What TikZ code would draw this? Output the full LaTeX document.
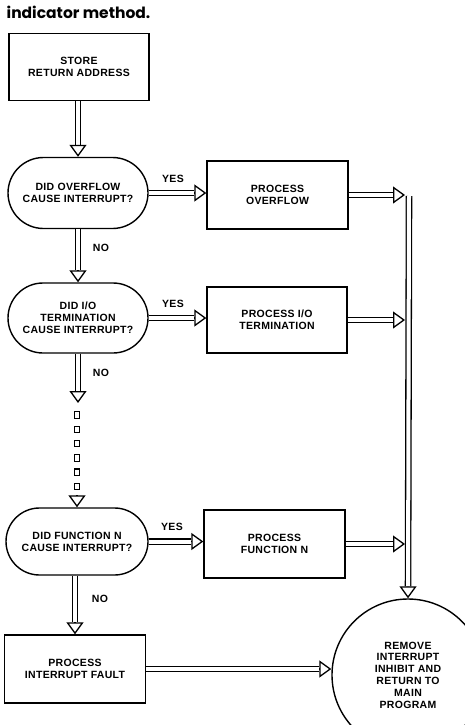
\documentclass[tikz,border=0pt]{standalone}
\usepackage{fontspec}
\setmainfont{Liberation Sans}[LetterSpace=3]
\newfontfamily\titlefont{Poppins}
\usetikzlibrary{arrows.meta, calc, shapes.misc}

% double-shafted arrow with a hollow head
\newcommand{\dblarr}[2]{%
  \draw[dblshaft] (#1) -- ($(#2)!12pt!(#1)$);
  \draw[dblhead] ($(#2)!12pt!(#1)$) -- (#2);}

\begin{document}
\begin{tikzpicture}[
  x=1pt, y=-1pt,
  font=\bfseries\fontsize{10.5}{11.8}\selectfont,
  line width=1.4pt,
  procbox/.style={draw, rectangle, align=center, inner sep=0pt},
  decbox/.style={draw, rounded rectangle, align=center, inner sep=0pt},
  endcirc/.style={draw, circle, align=center, inner sep=0pt, minimum size=152pt},
  dblshaft/.style={double, double distance=4pt, line width=1.3pt},
  dblhead/.style={line width=1.3pt,
                  -{Triangle[open, length=12pt, width=17pt]}},
  dot/.style={draw, rectangle, line width=1.1pt, minimum width=5pt,
              minimum height=6.5pt, inner sep=0pt},
  lbl/.style={inner sep=0pt}
]
\useasboundingbox (0,0) rectangle (465,725);

% ---------------- Caption ----------------
\node[anchor=south west, inner sep=0pt, font=\titlefont\bfseries\fontsize{15.5}{18}\selectfont]
  (title) at (6,19) {indicator method.};

% ---------------- Left column ----------------
\node[procbox, minimum width=140pt, minimum height=67pt] (store) at (79,67)
  {STORE\\RETURN ADDRESS};
\node[decbox, minimum width=140pt, minimum height=71pt] (dec1) at (78,193)
  {DID OVERFLOW\\CAUSE INTERRUPT?};
\node[decbox, minimum width=140pt, minimum height=70pt] (dec2) at (78,318)
  {DID I/O\\TERMINATION\\CAUSE INTERRUPT?};
\node[decbox, minimum width=142pt, minimum height=67pt] (dec3) at (77,541.5)
  {DID FUNCTION N\\CAUSE INTERRUPT?};
\node[procbox, minimum width=141pt, minimum height=68pt] (fault) at (75,669)
  {PROCESS\\INTERRUPT FAULT};

% ---------------- Process boxes ----------------
\node[procbox, minimum width=141pt, minimum height=68pt] (pov) at (277.5,195)
  {PROCESS\\OVERFLOW};
\node[procbox, minimum width=140pt, minimum height=66pt] (pio) at (277,320)
  {PROCESS I/O\\TERMINATION};
\node[procbox, minimum width=141pt, minimum height=68pt] (pfn) at (274.5,544)
  {PROCESS\\FUNCTION N};

% ---------------- Exit ----------------
\node[endcirc] (done) at (408,675)
  {REMOVE\\INTERRUPT\\INHIBIT AND\\RETURN TO\\MAIN\\PROGRAM};

% ---------------- Labels ----------------
\node[lbl] (yes1) at (173,179) {YES};
\node[lbl] (yes2) at (173,304) {YES};
\node[lbl] (yes3) at (172,527) {YES};
\node[lbl] (no1) at (101,248) {NO};
\node[lbl] (no2) at (101,373) {NO};
\node[lbl] (no3) at (100,599) {NO};

% ---------------- Helper coordinates ----------------
\coordinate (bustop) at (409,196);
\coordinate (gaptop) at (78,403);
\coordinate (dec1in) at (store.south -| dec1.north);
\coordinate (faultin) at (dec3.south -| fault.north);
\coordinate (ovin) at (pov.east -| 405,0);
\coordinate (ioin) at (pio.east -| 405,0);
\coordinate (fnin) at (pfn.east -| 405,0);
\coordinate (donein) at (done.west |- fault.east);
\foreach \i in {0,...,5}
  \node[dot] (sq\i) at (77,415+14.3*\i) {};

% ---------------- Arrows ----------------
\dblarr{dec1in}{dec1.north}
\dblarr{dec1.east}{pov.west |- dec1.east}
\dblarr{dec1.south}{dec2.north}
\dblarr{dec2.east}{pio.west |- dec2.east}
\dblarr{dec2.south}{gaptop}
\draw[dblhead] ($(dec3.north)-(0,12)$) -- (dec3.north);
\dblarr{dec3.east}{pfn.west |- dec3.east}
\dblarr{faultin}{fault.north}
\dblarr{fault.east}{donein}

% into the return bus
\dblarr{pov.east}{ovin}
\dblarr{pio.east}{ioin}
\dblarr{pfn.east}{fnin}
\dblarr{bustop}{done.north}

\end{tikzpicture}
\end{document}
